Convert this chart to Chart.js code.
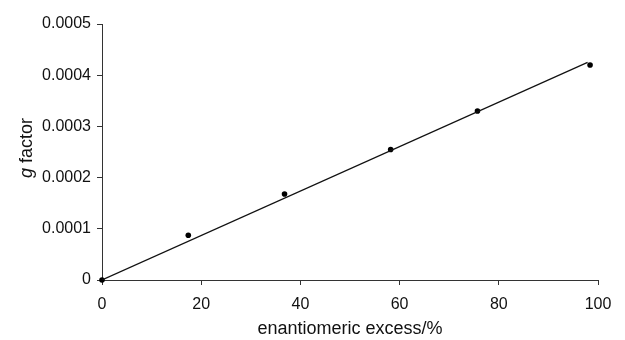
<!DOCTYPE html>
<html>
<head>
<meta charset="utf-8">
<script src="https://cdn.jsdelivr.net/npm/chart.js@4/dist/chart.umd.min.js"></script>
<style>
  html, body { margin: 0; padding: 0; background: #fff; }
  #wrap { width: 625px; height: 340px; }
</style>
</head>
<body>
<div id="wrap"><canvas id="chart" width="625" height="340"></canvas></div>
<script>
// measured points (ee %, g factor)
const eeValues = [0, 17.4, 36.8, 58.2, 75.7, 98.4];
const gValues = [0, 0.0000873, 0.000168, 0.000255, 0.00033, 0.00042];
// fitted line end points
const fitX = [0, 97.9];
const fitY = [0, 0.000425];
const xTicks = [0, 20, 40, 60, 80, 100];
const yTicks = [0, 0.0001, 0.0002, 0.0003, 0.0004, 0.0005];

const FONT = '"Liberation Sans", Arial, sans-serif';

// y title with italic "g"
const yTitlePlugin = {
  id: 'yTitle',
  afterDraw(chart) {
    const ctx = chart.ctx;
    ctx.save();
    ctx.translate(27, 148);
    ctx.rotate(-Math.PI / 2);
    ctx.fillStyle = '#111';
    ctx.textBaseline = 'middle';
    ctx.font = 'italic 18px ' + FONT;
    const gW = ctx.measureText('g').width;
    ctx.font = '18px ' + FONT;
    const restW = ctx.measureText(' factor').width;
    let x = -(gW + restW) / 2;
    ctx.font = 'italic 18px ' + FONT;
    ctx.textAlign = 'left';
    ctx.fillText('g', x, 0);
    ctx.font = '18px ' + FONT;
    ctx.fillText(' factor', x + gW, 0);
    ctx.restore();
  }
};

const ctx = document.getElementById('chart').getContext('2d');
new Chart(ctx, {
  type: 'scatter',
  data: {
    datasets: [
      {
        label: 'fit',
        data: fitX.map((x, i) => ({ x, y: fitY[i] })),
        showLine: true,
        borderColor: '#111',
        borderWidth: 1.2,
        pointRadius: 0,
        fill: false
      },
      {
        label: 'data',
        data: eeValues.map((x, i) => ({ x, y: gValues[i] })),
        backgroundColor: '#000',
        borderColor: '#000',
        pointRadius: 2.8,
        borderWidth: 0,
        clip: false
      }
    ]
  },
  options: {
    responsive: false,
    animation: false,
    layout: { padding: { top: 24, right: 27, left: 0, bottom: 0 } },
    plugins: {
      legend: { display: false },
      tooltip: { enabled: false }
    },
    scales: {
      x: {
        type: 'linear',
        min: 0,
        max: 100,
        afterBuildTicks: s => { s.ticks = xTicks.map(v => ({ value: v })); },
        afterFit: s => { s.height = 60; },
        grid: { drawOnChartArea: false, tickLength: 5, color: '#333' },
        border: { color: '#333', width: 1 },
        ticks: { color: '#111', font: { family: FONT, size: 16 }, padding: 10, maxRotation: 0 },
        title: {
          display: true,
          text: 'enantiomeric excess/%',
          color: '#111',
          font: { family: FONT, size: 18 },
          padding: { top: 2, bottom: 0 }
        }
      },
      y: {
        type: 'linear',
        min: 0,
        max: 0.0005,
        afterBuildTicks: s => { s.ticks = yTicks.map(v => ({ value: v })); },
        afterFit: s => { s.width = 102; },
        grid: { drawOnChartArea: false, tickLength: 5, color: '#333' },
        border: { color: '#333', width: 1 },
        ticks: {
          color: '#111',
          font: { family: FONT, size: 16 },
          padding: 6,
          callback: v => v === 0 ? '0' : v.toFixed(4)
        }
      }
    }
  },
  plugins: [yTitlePlugin]
});
</script>
</body>
</html>
